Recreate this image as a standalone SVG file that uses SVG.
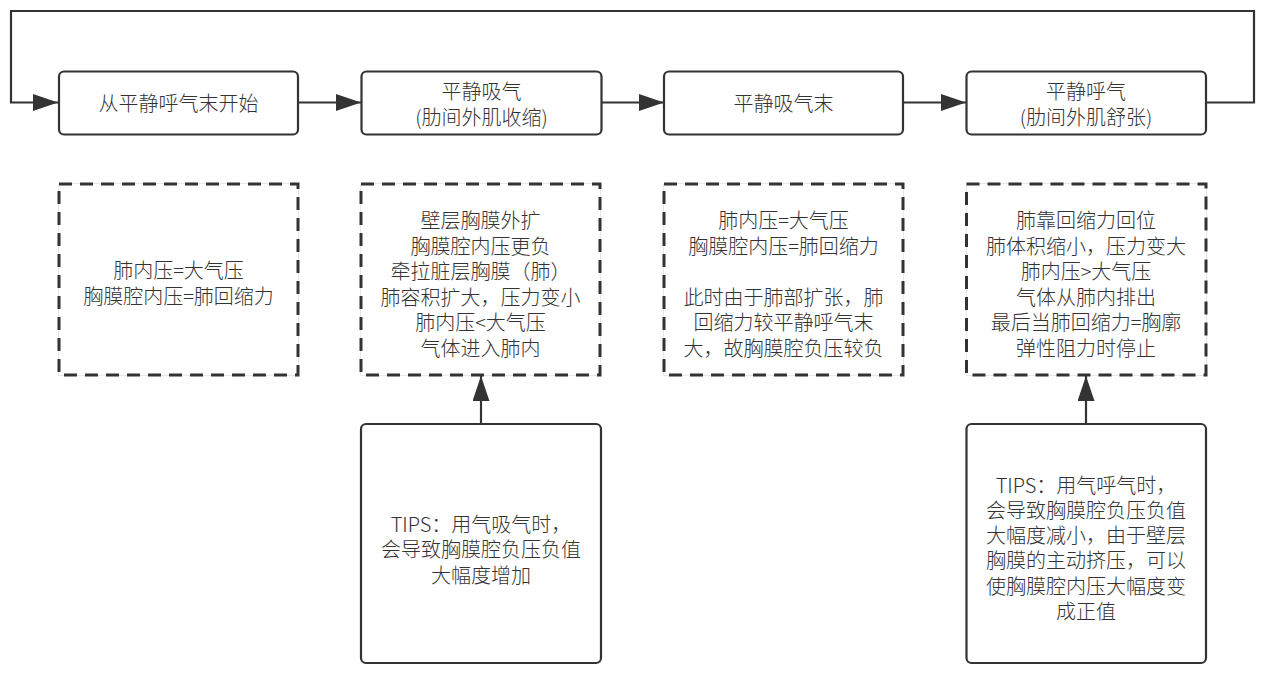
<svg xmlns="http://www.w3.org/2000/svg" width="1268" height="680" viewBox="0 0 1268 680">
<style>
  .node { fill: #ffffff; stroke: #333333; stroke-width: 2.2; }
  .dash { fill: #ffffff; stroke: #333333; stroke-width: 3; stroke-dasharray: 13 8; }
  .dashbg { fill: none; stroke: #cfcfcf; stroke-width: 1; }
  .edge { fill: none; stroke: #333333; stroke-width: 2.2; }
  text { font-family: "Noto Sans CJK SC", "Noto Sans", sans-serif; font-size: 20px; font-weight: 300; fill: #333333; text-anchor: middle; }
</style>
<defs>
  <marker id="arrow" markerUnits="userSpaceOnUse" markerWidth="26" markerHeight="18" refX="25" refY="8.5" orient="auto">
    <path d="M0,0 L25,8.5 L0,17 z" fill="#333333"/>
  </marker>
</defs>
<rect width="1268" height="680" fill="#ffffff"/>

<g id="connectors">
  <path class="edge" d="M1206,102.5 L1254,102.5 L1254,11 L11,11 L11,102.5 L58,102.5" marker-end="url(#arrow)"/>
  <path class="edge" d="M298,102.5 L361,102.5" marker-end="url(#arrow)"/>
  <path class="edge" d="M601,102.5 L664,102.5" marker-end="url(#arrow)"/>
  <path class="edge" d="M903,102.5 L966,102.5" marker-end="url(#arrow)"/>
  <path class="edge" d="M481,424 L481,376" marker-end="url(#arrow)"/>
  <path class="edge" d="M1086,424 L1086,376" marker-end="url(#arrow)"/>
</g>

<g id="n1">
  <rect class="node" x="59" y="71.5" width="239" height="63" rx="5"/>
  <text x="178.5" y="110.5">从平静呼气末开始</text>
</g>
<g id="n2">
  <rect class="node" x="361.5" y="71.5" width="240" height="63" rx="5"/>
  <text x="481.5" y="99">平静吸气</text>
  <text x="481.5" y="125">(肋间外肌收缩)</text>
</g>
<g id="n3">
  <rect class="node" x="664" y="71.5" width="239" height="63" rx="5"/>
  <text x="783.5" y="110.5">平静吸气末</text>
</g>
<g id="n4">
  <rect class="node" x="966.5" y="71.5" width="239.5" height="63" rx="5"/>
  <text x="1086" y="99">平静呼气</text>
  <text x="1086" y="125">(肋间外肌舒张)</text>
</g>

<g id="d1">
  <rect class="dashbg" x="59" y="184" width="239" height="191"/>
  <rect class="dash" x="59" y="184" width="239" height="191"/>
  <text x="178.5" y="278">肺内压=大气压</text>
  <text x="178.5" y="303.5">胸膜腔内压=肺回缩力</text>
</g>
<g id="d2">
  <rect class="dashbg" x="361" y="184" width="239" height="191"/>
  <rect class="dash" x="361" y="184" width="239" height="191"/>
  <text x="480.5" y="228">壁层胸膜外扩</text>
  <text x="480.5" y="253.5">胸膜腔内压更负</text>
  <text x="480.5" y="279">牵拉脏层胸膜（肺）</text>
  <text x="480.5" y="304.5">肺容积扩大，压力变小</text>
  <text x="480.5" y="330">肺内压&lt;大气压</text>
  <text x="480.5" y="355.5">气体进入肺内</text>
</g>
<g id="d3">
  <rect class="dashbg" x="664" y="184" width="239" height="191"/>
  <rect class="dash" x="664" y="184" width="239" height="191"/>
  <text x="783.5" y="228">肺内压=大气压</text>
  <text x="783.5" y="253.5">胸膜腔内压=肺回缩力</text>
  <text x="783.5" y="304.5">此时由于肺部扩张，肺</text>
  <text x="783.5" y="330">回缩力较平静呼气末</text>
  <text x="783.5" y="355.5">大，故胸膜腔负压较负</text>
</g>
<g id="d4">
  <rect class="dashbg" x="966.5" y="184" width="239.5" height="191"/>
  <rect class="dash" x="966.5" y="184" width="239.5" height="191"/>
  <text x="1086" y="228">肺靠回缩力回位</text>
  <text x="1086" y="253.5">肺体积缩小，压力变大</text>
  <text x="1086" y="279">肺内压&gt;大气压</text>
  <text x="1086" y="304.5">气体从肺内排出</text>
  <text x="1086" y="330">最后当肺回缩力=胸廓</text>
  <text x="1086" y="355.5">弹性阻力时停止</text>
</g>

<g id="t1">
  <rect class="node" x="361" y="424" width="240" height="239" rx="5"/>
  <text x="481" y="531.5">TIPS：用气吸气时，</text>
  <text x="481" y="557">会导致胸膜腔负压负值</text>
  <text x="481" y="582.5">大幅度增加</text>
</g>
<g id="t2">
  <rect class="node" x="966.5" y="424" width="239.5" height="239" rx="5"/>
  <text x="1086" y="492.5">TIPS：用气呼气时，</text>
  <text x="1086" y="517.8">会导致胸膜腔负压负值</text>
  <text x="1086" y="543">大幅度减小，由于壁层</text>
  <text x="1086" y="568.3">胸膜的主动挤压，可以</text>
  <text x="1086" y="593.5">使胸膜腔内压大幅度变</text>
  <text x="1086" y="618.8">成正值</text>
</g>
</svg>
